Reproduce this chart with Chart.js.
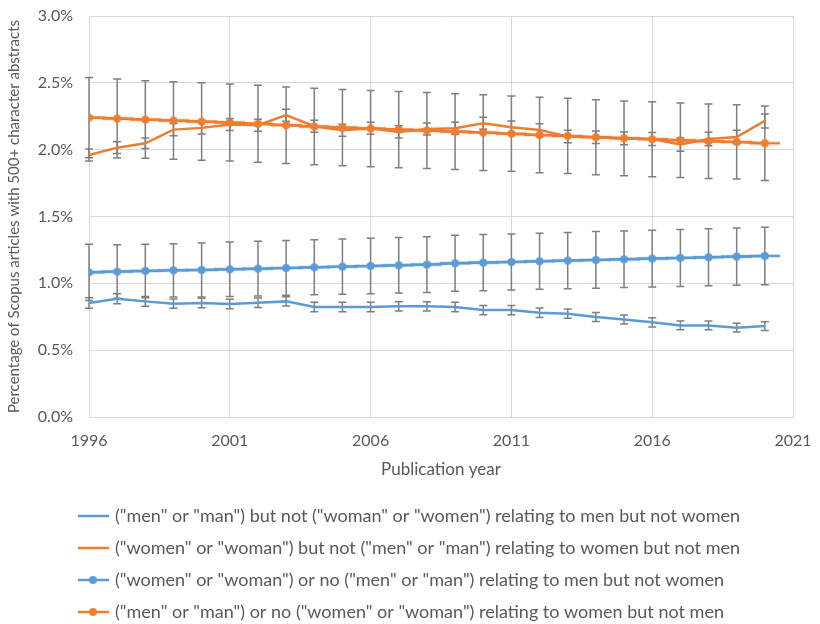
<!DOCTYPE html>
<html lang="en">
<head>
  <meta charset="UTF-8">
  <title>Scopus abstracts by gender terms</title>
  <script src="https://cdn.jsdelivr.net/npm/chart.js"></script>
  <style>
    body {
      margin: 0;
      background: #fff;
    }

    .chart-container {
      width: 820px;
      height: 624px;
      position: relative;
    }
  </style>
</head>
<body>

  <div class="chart-container">
    <canvas id="trendChart" width="820" height="624"></canvas>
  </div>

  <script>
    const years = [1996, 1997, 1998, 1999, 2000, 2001, 2002, 2003, 2004, 2005, 2006, 2007, 2008,
                   2009, 2010, 2011, 2012, 2013, 2014, 2015, 2016, 2017, 2018, 2019, 2020];

    const seriesLabels = [
      '("men" or "man") but not ("woman" or "women") relating to men but not women',
      '("women" or "woman") but not ("men" or "man") relating to women but not men',
      '("women" or "woman") or no ("men" or "man") relating to men but not women',
      '("men" or "man") or no ("women" or "woman") relating to women but not men'
    ];

    // values in percent
    const menNotWomen = [0.853, 0.885, 0.865, 0.848, 0.853, 0.845, 0.855, 0.865, 0.823, 0.823, 0.823, 0.828, 0.828,
                         0.823, 0.800, 0.800, 0.780, 0.773, 0.748, 0.730, 0.708, 0.685, 0.685, 0.668, 0.680];
    const menNotWomenErr = [0.040, 0.038, 0.036, 0.035, 0.035, 0.035, 0.035, 0.035, 0.035, 0.035, 0.035, 0.035, 0.035,
                            0.035, 0.035, 0.035, 0.035, 0.035, 0.034, 0.034, 0.034, 0.033, 0.033, 0.033, 0.033];

    const womenNotMen = [1.960, 2.015, 2.048, 2.150, 2.163, 2.188, 2.183, 2.258, 2.175, 2.145, 2.160, 2.133, 2.155,
                         2.160, 2.198, 2.168, 2.148, 2.098, 2.093, 2.085, 2.080, 2.038, 2.080, 2.095, 2.215];
    const womenNotMenErr = [0.045, 0.044, 0.040, 0.045, 0.045, 0.045, 0.045, 0.045, 0.045, 0.045, 0.045, 0.045, 0.045,
                            0.045, 0.045, 0.046, 0.046, 0.047, 0.047, 0.048, 0.048, 0.049, 0.050, 0.050, 0.052];

    const menOrNoWomen = [1.082, 1.088, 1.093, 1.097, 1.100, 1.105, 1.110, 1.115, 1.120, 1.125, 1.130, 1.135, 1.140,
                          1.150, 1.155, 1.160, 1.165, 1.170, 1.175, 1.180, 1.185, 1.190, 1.195, 1.200, 1.205];
    const menOrNoWomenErr = [0.210, 0.200, 0.200, 0.200, 0.202, 0.204, 0.205, 0.205, 0.206, 0.207, 0.207, 0.208, 0.208,
                             0.209, 0.210, 0.210, 0.210, 0.211, 0.212, 0.212, 0.213, 0.213, 0.214, 0.214, 0.215];

    const womenOrNoMen = [2.240, 2.233, 2.225, 2.218, 2.210, 2.203, 2.193, 2.183, 2.173, 2.165, 2.158, 2.150, 2.143,
                          2.135, 2.128, 2.120, 2.110, 2.103, 2.093, 2.085, 2.078, 2.070, 2.063, 2.058, 2.048];
    const womenOrNoMenErr = [0.300, 0.295, 0.290, 0.290, 0.290, 0.288, 0.288, 0.286, 0.286, 0.285, 0.285, 0.285, 0.284,
                             0.283, 0.283, 0.282, 0.282, 0.281, 0.281, 0.280, 0.280, 0.279, 0.279, 0.278, 0.278];

    const BLUE = '#5b9bd5';
    const ORANGE = '#ed7d31';
    const TEXT = '#595959';

    Chart.defaults.font.family = 'Lato, "Open Sans", sans-serif';
    Chart.defaults.color = TEXT;

    // little line (+ dot) pictures for the legend
    function legendSymbol(color, withDot) {
      const c = document.createElement('canvas');
      c.width = 31;
      c.height = 10;
      const g = c.getContext('2d');
      g.strokeStyle = color;
      g.lineWidth = 2.5;
      g.beginPath();
      g.moveTo(0, 5);
      g.lineTo(31, 5);
      g.stroke();
      if (withDot) {
        g.fillStyle = color;
        g.beginPath();
        g.arc(15.5, 5, 4, 0, Math.PI * 2);
        g.fill();
      }
      return c;
    }

    function toPoints(values) {
      return values.map((v, i) => ({ x: years[i], y: v }));
    }

    // error bars, drawn from each dataset's err array through the chart scales
    const errorBars = {
      id: 'errorBars',
      beforeDatasetsDraw(chart) {
        const ctx = chart.ctx;
        const xs = chart.scales.x;
        const ys = chart.scales.y;
        ctx.save();
        ctx.strokeStyle = '#7f7f7f';
        ctx.lineWidth = 1.5;
        chart.data.datasets.forEach((ds) => {
          ds.data.forEach((p, i) => {
            const e = ds.err[i];
            const x = xs.getPixelForValue(p.x);
            const yTop = ys.getPixelForValue(p.y + e);
            const yBot = ys.getPixelForValue(p.y - e);
            ctx.beginPath();
            ctx.moveTo(x, yTop);
            ctx.lineTo(x, yBot);
            ctx.moveTo(x - 4, yTop);
            ctx.lineTo(x + 4, yTop);
            ctx.moveTo(x - 4, yBot);
            ctx.lineTo(x + 4, yBot);
            ctx.stroke();
          });
        });
        ctx.restore();
      }
    };

    // move the legend block over to the left edge of the plot
    const legendShift = {
      id: 'legendShift',
      afterLayout(chart) {
        const lg = chart.legend;
        lg.left += 66;
        lg.right += 66;
        lg.top += 7;
        lg.bottom += 7;
      }
    };

    // let layout.padding alone decide the plot edges
    function noLabelPadding(scale) {
      scale.paddingTop = 0;
      scale.paddingBottom = 0;
      scale.paddingLeft = 0;
      scale.paddingRight = 0;
    }

    const ctx = document.getElementById('trendChart').getContext('2d');

    const trendChart = new Chart(ctx, {
      type: 'line',
      data: {
        datasets: [
          {
            label: seriesLabels[0],
            data: toPoints(menNotWomen),
            err: menNotWomenErr,
            borderColor: BLUE,
            backgroundColor: BLUE,
            borderWidth: 2.5,
            pointRadius: 0,
            pointStyle: legendSymbol(BLUE, false),
            order: 4
          },
          {
            label: seriesLabels[1],
            data: toPoints(womenNotMen),
            err: womenNotMenErr,
            borderColor: ORANGE,
            backgroundColor: ORANGE,
            borderWidth: 2.5,
            pointRadius: 0,
            pointStyle: legendSymbol(ORANGE, false),
            order: 3
          },
          {
            label: seriesLabels[2],
            data: toPoints(menOrNoWomen),
            err: menOrNoWomenErr,
            borderColor: BLUE,
            backgroundColor: BLUE,
            borderWidth: 2.5,
            pointRadius: 5.5,
            pointBorderWidth: 0,
            pointStyle: legendSymbol(BLUE, true),
            order: 2
          },
          {
            label: seriesLabels[3],
            data: toPoints(womenOrNoMen),
            err: womenOrNoMenErr,
            borderColor: ORANGE,
            backgroundColor: ORANGE,
            borderWidth: 2.5,
            pointRadius: 5.5,
            pointBorderWidth: 0,
            pointStyle: legendSymbol(ORANGE, true),
            order: 1
          }
        ]
      },
      options: {
        responsive: false,
        animation: false,
        layout: {
          padding: { top: 16, right: 27, bottom: 0, left: 0 }
        },
        elements: {
          line: { tension: 0 }
        },
        scales: {
          x: {
            type: 'linear',
            min: 1996,
            max: 2021,
            ticks: {
              stepSize: 5,
              padding: 14,
              font: { size: 16 },
              callback: (v) => String(v)
            },
            grid: { color: '#d9d9d9', drawTicks: false },
            border: { color: '#d9d9d9' },
            title: {
              display: true,
              text: 'Publication year',
              font: { size: 17 },
              padding: { top: 4, bottom: 6 }
            },
            afterFit(scale) {
              noLabelPadding(scale);
              scale.height = 69;
            }
          },
          y: {
            min: 0,
            max: 3,
            ticks: {
              stepSize: 0.5,
              padding: 16,
              font: { size: 16 },
              callback: (v) => v.toFixed(1) + '%'
            },
            grid: { color: '#d9d9d9', drawTicks: false },
            border: { color: '#d9d9d9' },
            title: {
              display: true,
              text: 'Percentage of Scopus articles with 500+ character abstracts',
              font: { size: 15 },
              padding: { top: 5, bottom: 0 }
            },
            afterFit(scale) {
              noLabelPadding(scale);
              scale.width = 89;
            }
          }
        },
        plugins: {
          legend: {
            position: 'bottom',
            align: 'start',
            labels: {
              usePointStyle: true,
              pointStyleWidth: 26,
              padding: 14,
              color: TEXT,
              font: { size: 18 },
              sort: (a, b) => a.datasetIndex - b.datasetIndex
            }
          },
          tooltip: { enabled: false }
        }
      },
      plugins: [errorBars, legendShift]
    });
  </script>
</body>
</html>
